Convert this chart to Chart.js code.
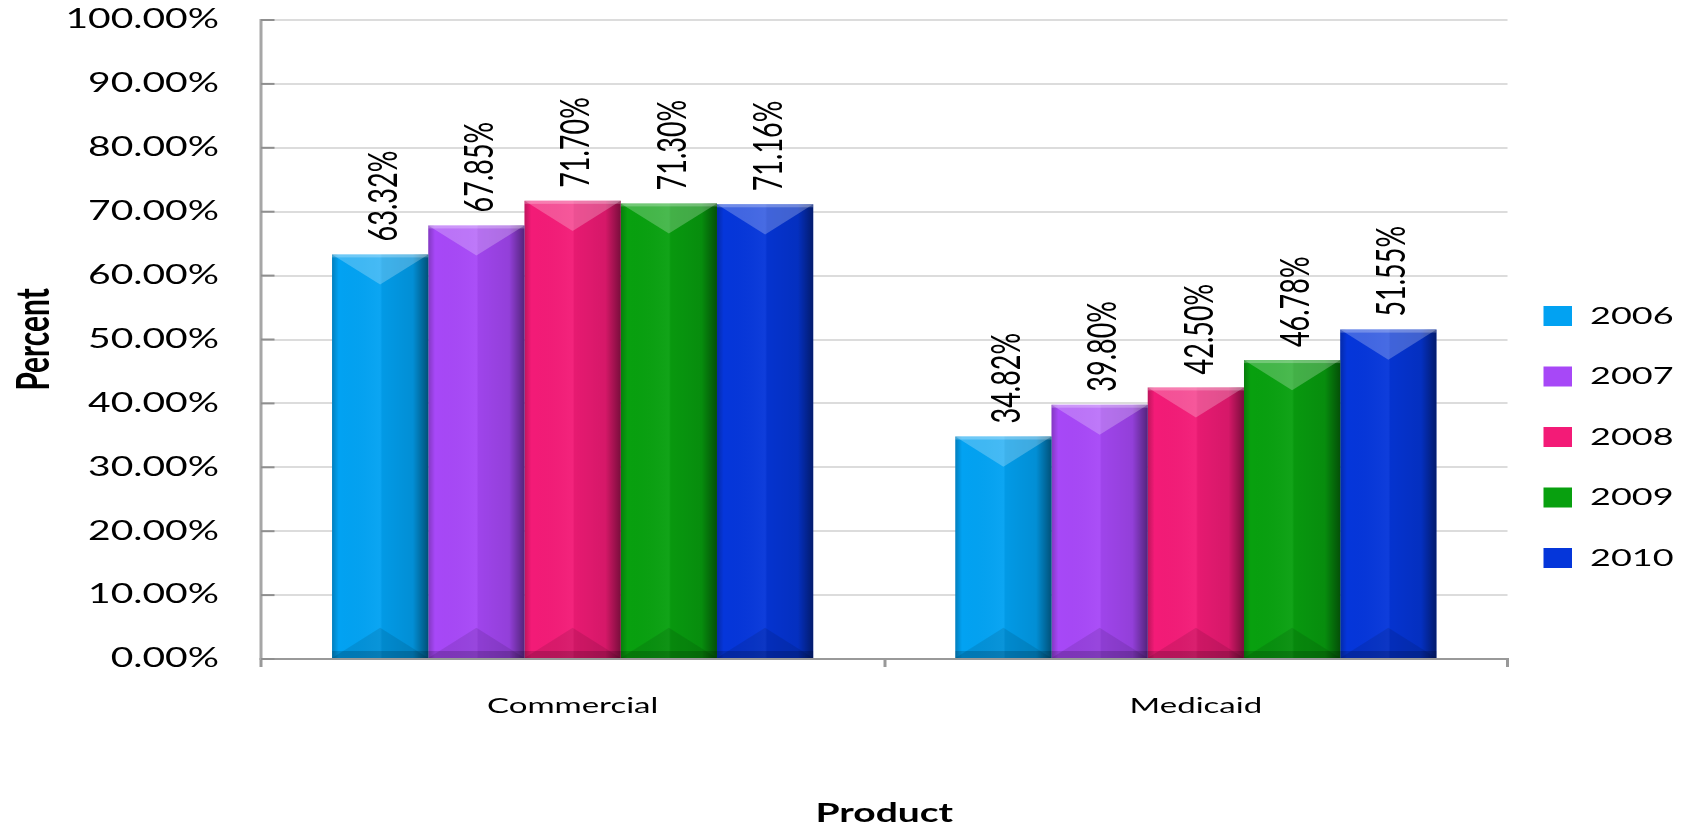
<!DOCTYPE html>
<html>
<head>
<meta charset="utf-8">
<script src="https://cdn.jsdelivr.net/npm/chart.js@4"></script>
<style>
  html, body { margin: 0; padding: 0; background: #ffffff; overflow: hidden; }
  #c { display: block; }
</style>
</head>
<body>
<canvas id="c" width="1127" height="829"></canvas>
<script>
// ---------- data ----------
const categories = ['Commercial', 'Medicaid'];
const years = ['2006', '2007', '2008', '2009', '2010'];
const v2006 = [63.32, 34.82];
const v2007 = [67.85, 39.80];
const v2008 = [71.70, 42.50];
const v2009 = [71.30, 46.78];
const v2010 = [71.16, 51.55];
const yMin = 0, yMax = 100, yStep = 10;
const xTitle = 'Product';
const yTitle = 'Percent';

// ---------- styles ----------
const seriesValues = [v2006, v2007, v2008, v2009, v2010];
const seriesColors = ['#02a2f2', '#a748f7', '#f31b77', '#08a00f', '#0536da'];
const FONT = 'Lato';
const SX = 1.5; // horizontal stretch of the original picture
const LEGEND_PAD = 36.5;

const datasets = years.map((y, i) => ({
  label: y,
  data: seriesValues[i],
  backgroundColor: seriesColors[i],
  borderWidth: 0,
  categoryPercentage: 0.772,
  barPercentage: 1.0
}));

const bevelPlugin = {
  id: 'bevel',
  afterDatasetsDraw(chart) {
    const ctx = chart.ctx;
    chart.data.datasets.forEach((ds, di) => {
      const meta = chart.getDatasetMeta(di);
      meta.data.forEach(el => {
        const p = el.getProps(['x', 'y', 'base', 'width'], true);
        const l = p.x - p.width / 2, r = p.x + p.width / 2, h = p.base - p.y;
        const d = Math.min(p.width * 0.47, h / 2);
        ctx.save();
        const g = ctx.createLinearGradient(l, 0, r, 0);
        g.addColorStop(0, 'rgba(0,0,0,0.22)');
        g.addColorStop(0.07, 'rgba(0,0,0,0)');
        g.addColorStop(0.5, 'rgba(255,255,255,0.04)');
        g.addColorStop(0.52, 'rgba(0,0,0,0.05)');
        g.addColorStop(0.84, 'rgba(0,0,0,0.12)');
        g.addColorStop(1, 'rgba(0,0,0,0.5)');
        ctx.fillStyle = g;
        ctx.fillRect(l, p.y, p.width, h);
        ctx.beginPath();
        ctx.moveTo(l, p.y); ctx.lineTo(r, p.y); ctx.lineTo(p.x, p.y + d); ctx.closePath();
        ctx.fillStyle = 'rgba(255,255,255,0.24)';
        ctx.fill();
        ctx.fillStyle = 'rgba(255,255,255,0.25)';
        ctx.fillRect(l, p.y, p.width, 3);
        ctx.beginPath();
        ctx.moveTo(l, p.base); ctx.lineTo(r, p.base); ctx.lineTo(p.x, p.base - d); ctx.closePath();
        ctx.fillStyle = 'rgba(0,0,0,0.10)';
        ctx.fill();
        ctx.fillStyle = 'rgba(0,0,0,0.16)';
        ctx.fillRect(l, p.base - 7, p.width, 7);
        ctx.restore();
      });
    });
  }
};

const labelPlugin = {
  id: 'valueLabels',
  afterDatasetsDraw(chart) {
    const ctx = chart.ctx;
    chart.data.datasets.forEach((ds, di) => {
      const meta = chart.getDatasetMeta(di);
      meta.data.forEach((el, i) => {
        const v = ds.data[i];
        ctx.save();
        ctx.translate(el.x + 2.5, el.y - 13);
        ctx.rotate(-Math.PI / 2);
        ctx.font = '27px ' + FONT;
        ctx.fillStyle = '#000000';
        ctx.textAlign = 'left';
        ctx.textBaseline = 'middle';
        ctx.fillText(v.toFixed(2) + '%', 0, 0);
        ctx.restore();
      });
    });
  }
};

const innerTicksPlugin = {
  id: 'innerTicks',
  afterDatasetsDraw(chart) {
    const ctx = chart.ctx, ys = chart.scales.y, left = chart.chartArea.left;
    ctx.save();
    ctx.strokeStyle = '#8f8f8f';
    ctx.lineWidth = 2;
    ys.ticks.forEach(t => {
      const py = ys.getPixelForValue(t.value);
      ctx.beginPath(); ctx.moveTo(left, py); ctx.lineTo(left + 9, py); ctx.stroke();
    });
    ctx.restore();
  }
};

const legendPlacePlugin = {
  id: 'legendPlace',
  afterLayout(chart) {
    const lg = chart.legend;
    if (!lg) return;
    const w = lg.right - lg.left;
    lg.left = chart.chartArea.right + 24 - LEGEND_PAD;
    lg.right = lg.left + w + 40;
    lg.top = 267.5;
    lg.bottom = 829;
  }
};

function build() {
  const canvas = document.getElementById('c');
  const chart = new Chart(canvas, {
    type: 'bar',
    data: { labels: categories, datasets: datasets },
    plugins: [innerTicksPlugin, bevelPlugin, labelPlugin, legendPlacePlugin],
    options: {
      responsive: false,
      animation: false,
      devicePixelRatio: 1,
      layout: { padding: { top: 20, left: 0, right: 0, bottom: 0 } },
      plugins: {
        tooltip: { enabled: false },
        title: { display: false },
        legend: {
          display: true,
          position: 'right',
          align: 'start',
          maxWidth: 122,
          labels: {
            boxWidth: 19,
            boxHeight: 20,
            padding: LEGEND_PAD,
            color: '#000000',
            font: { family: FONT, size: 24 }
          }
        }
      },
      scales: {
        x: {
          offset: true,
          grid: {
            offset: true,
            drawOnChartArea: false,
            drawTicks: true,
            tickLength: 8,
            color: '#999999',
            lineWidth: 2
          },
          border: { display: true, color: '#999999', width: 2 },
          ticks: {
            padding: 26,
            color: '#000000',
            font: { family: FONT, size: 22 }
          },
          title: {
            display: true,
            text: xTitle,
            color: '#000000',
            padding: { top: 0, bottom: 0 },
            font: { family: FONT, size: 26, weight: 'bold' }
          },
          afterFit(scale) { scale.height = 170; scale.paddingLeft = 0; scale.paddingRight = 0; }
        },
        y: {
          min: yMin,
          max: yMax,
          grid: {
            drawTicks: false,
            color: '#dcdcdc',
            lineWidth: 2
          },
          border: { display: true, color: '#a6a6a6', width: 2 },
          ticks: {
            stepSize: yStep,
            padding: 28,
            color: '#000000',
            font: { family: FONT, size: 26 },
            callback: v => Number(v).toFixed(2) + '%'
          },
          title: {
            display: true,
            text: yTitle,
            color: '#000000',
            padding: { top: 5, bottom: 0 },
            font: { family: FONT, size: 30, weight: 'bold' }
          },
          afterFit(scale) { scale.width = 174; scale.paddingTop = 0; scale.paddingBottom = 0; }
        }
      }
    }
  });

  // Reproduce the horizontally stretched look of the original picture.
  canvas.width = 1690;
  canvas.height = 829;
  canvas.style.width = '1690px';
  canvas.style.height = '829px';
  chart.ctx.setTransform(SX, 0, 0, 1, 0, 0);
  chart.draw();
}

const fontLoads = ['24px Lato', 'bold 26px Lato'].map(f => document.fonts.load(f).catch(() => null));
Promise.race([Promise.all(fontLoads), new Promise(r => setTimeout(r, 1500))]).then(build, build);
</script>
</body>
</html>
